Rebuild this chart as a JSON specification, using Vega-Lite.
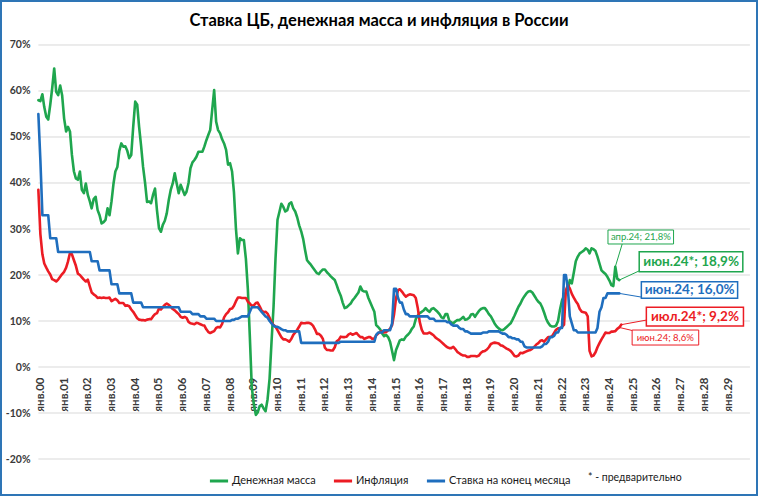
{
"$schema": "https://vega.github.io/schema/vega-lite/v6.json",
"width": 758, "height": 496, "autosize": "none", "padding": 0,
"background": "white",
"config": {"view": {"stroke": "#2E75B6", "strokeWidth": 4}, "font": "Lato"},
"title": {"text": "Ставка ЦБ, денежная масса и инфляция в России", "anchor": "middle", "frame": "group", "fontSize": 16.5, "fontWeight": "bold", "color": "#000000", "baseline": "alphabetic", "offset": -42, "font": "Lato"},
"datasets": {
"main": [
{"d":"1999-12","m":58.0,"r":38.5,"s":55},
{"d":"2000-01","m":57.8,"r":28.9,"s":45},{"d":"2000-02","m":59.3,"r":24.5,"s":33},{"d":"2000-03","m":56.5,"r":22.5,"s":33},{"d":"2000-04","m":54.4,"r":21.6,"s":33},{"d":"2000-05","m":53.8,"r":20.8,"s":33},{"d":"2000-06","m":57.0,"r":20.1,"s":28},{"d":"2000-07","m":60.6,"r":19.1,"s":28},{"d":"2000-08","m":64.9,"r":18.9,"s":28},{"d":"2000-09","m":59.8,"r":18.6,"s":28},{"d":"2000-10","m":59.1,"r":19.0,"s":25},{"d":"2000-11","m":61.2,"r":19.6,"s":25},{"d":"2000-12","m":59.1,"r":20.2,"s":25},
{"d":"2001-01","m":54.0,"r":20.7,"s":25},{"d":"2001-02","m":51.2,"r":21.6,"s":25},{"d":"2001-03","m":52.2,"r":22.9,"s":25},{"d":"2001-04","m":51.2,"r":24.8,"s":25},{"d":"2001-05","m":46.1,"r":24.5,"s":25},{"d":"2001-06","m":42.5,"r":23.2,"s":25},{"d":"2001-07","m":41.0,"r":22.0,"s":25},{"d":"2001-08","m":40.7,"r":20.3,"s":25},{"d":"2001-09","m":42.5,"r":20.0,"s":25},{"d":"2001-10","m":38.5,"r":19.5,"s":25},{"d":"2001-11","m":37.8,"r":19.0,"s":25},{"d":"2001-12","m":39.9,"r":18.6,"s":25},
{"d":"2002-01","m":37.4,"r":19.0,"s":25},{"d":"2002-02","m":36.0,"r":17.5,"s":25},{"d":"2002-03","m":34.5,"r":16.2,"s":23},{"d":"2002-04","m":36.5,"r":15.8,"s":23},{"d":"2002-05","m":37.0,"r":15.5,"s":23},{"d":"2002-06","m":34.1,"r":15.0,"s":23},{"d":"2002-07","m":33.0,"r":15.1,"s":21},{"d":"2002-08","m":31.2,"r":15.0,"s":21},{"d":"2002-09","m":31.5,"r":15.1,"s":21},{"d":"2002-10","m":32.0,"r":15.0,"s":21},{"d":"2002-11","m":34.5,"r":15.0,"s":21},{"d":"2002-12","m":33.0,"r":15.1,"s":21},
{"d":"2003-01","m":36.0,"r":14.3,"s":18},{"d":"2003-02","m":39.9,"r":14.6,"s":18},{"d":"2003-03","m":42.5,"r":14.8,"s":18},{"d":"2003-04","m":43.5,"r":14.5,"s":18},{"d":"2003-05","m":47.0,"r":13.9,"s":16},{"d":"2003-06","m":48.6,"r":13.9,"s":16},{"d":"2003-07","m":47.9,"r":13.9,"s":16},{"d":"2003-08","m":48.0,"r":13.3,"s":16},{"d":"2003-09","m":47.0,"r":13.4,"s":16},{"d":"2003-10","m":45.4,"r":13.2,"s":16},{"d":"2003-11","m":46.1,"r":12.5,"s":16},{"d":"2003-12","m":52.2,"r":12.0,"s":14},
{"d":"2004-01","m":57.7,"r":11.3,"s":14},{"d":"2004-02","m":57.0,"r":10.6,"s":14},{"d":"2004-03","m":52.2,"r":10.3,"s":14},{"d":"2004-04","m":48.0,"r":10.2,"s":14},{"d":"2004-05","m":43.5,"r":10.2,"s":13},{"d":"2004-06","m":40.0,"r":10.1,"s":13},{"d":"2004-07","m":35.9,"r":10.3,"s":13},{"d":"2004-08","m":36.0,"r":10.4,"s":13},{"d":"2004-09","m":35.6,"r":10.4,"s":13},{"d":"2004-10","m":37.4,"r":11.0,"s":13},{"d":"2004-11","m":38.8,"r":11.5,"s":13},{"d":"2004-12","m":34.1,"r":11.7,"s":13},
{"d":"2005-01","m":30.2,"r":12.7,"s":13},{"d":"2005-02","m":29.4,"r":12.5,"s":13},{"d":"2005-03","m":30.9,"r":13.0,"s":13},{"d":"2005-04","m":31.8,"r":13.5,"s":13},{"d":"2005-05","m":33.4,"r":13.8,"s":13},{"d":"2005-06","m":36.3,"r":13.5,"s":13},{"d":"2005-07","m":38.5,"r":13.1,"s":13},{"d":"2005-08","m":39.9,"r":12.6,"s":13},{"d":"2005-09","m":42.1,"r":12.3,"s":13},{"d":"2005-10","m":39.9,"r":11.9,"s":13},{"d":"2005-11","m":37.8,"r":11.5,"s":13},{"d":"2005-12","m":39.6,"r":10.9,"s":12},
{"d":"2006-01","m":38.5,"r":10.7,"s":12},{"d":"2006-02","m":37.4,"r":10.9,"s":12},{"d":"2006-03","m":38.1,"r":10.7,"s":12},{"d":"2006-04","m":40.0,"r":9.8,"s":12},{"d":"2006-05","m":43.2,"r":9.5,"s":12},{"d":"2006-06","m":44.5,"r":9.4,"s":11.5},{"d":"2006-07","m":45.0,"r":9.3,"s":11.5},{"d":"2006-08","m":45.7,"r":9.6,"s":11.5},{"d":"2006-09","m":46.8,"r":9.5,"s":11.5},{"d":"2006-10","m":46.8,"r":9.3,"s":11},{"d":"2006-11","m":46.8,"r":9.1,"s":11},{"d":"2006-12","m":47.9,"r":9.0,"s":11},
{"d":"2007-01","m":49.3,"r":8.2,"s":10.5},{"d":"2007-02","m":50.5,"r":7.6,"s":10.5},{"d":"2007-03","m":51.5,"r":7.4,"s":10.5},{"d":"2007-04","m":55.9,"r":7.6,"s":10.5},{"d":"2007-05","m":60.2,"r":7.8,"s":10.5},{"d":"2007-06","m":53.3,"r":8.5,"s":10},{"d":"2007-07","m":51.5,"r":8.7,"s":10},{"d":"2007-08","m":50.8,"r":8.6,"s":10},{"d":"2007-09","m":49.5,"r":9.4,"s":10},{"d":"2007-10","m":48.6,"r":10.8,"s":10},{"d":"2007-11","m":47.2,"r":11.5,"s":10},{"d":"2007-12","m":44.0,"r":11.9,"s":10},
{"d":"2008-01","m":44.3,"r":12.6,"s":10},{"d":"2008-02","m":42.5,"r":12.7,"s":10.25},{"d":"2008-03","m":38.0,"r":13.3,"s":10.25},{"d":"2008-04","m":30.0,"r":14.3,"s":10.5},{"d":"2008-05","m":24.7,"r":15.1,"s":10.5},{"d":"2008-06","m":28.0,"r":15.1,"s":10.75},{"d":"2008-07","m":27.6,"r":15.0,"s":11},{"d":"2008-08","m":27.6,"r":15.0,"s":11},{"d":"2008-09","m":23.5,"r":15.0,"s":11},{"d":"2008-10","m":17.0,"r":14.2,"s":11},{"d":"2008-11","m":6.5,"r":13.8,"s":12},{"d":"2008-12","m":-4.5,"r":13.3,"s":13},
{"d":"2009-01","m":-8.0,"r":13.4,"s":13},{"d":"2009-02","m":-10.4,"r":13.9,"s":13},{"d":"2009-03","m":-9.9,"r":14.0,"s":13},{"d":"2009-04","m":-8.5,"r":13.2,"s":12.5},{"d":"2009-05","m":-8.2,"r":12.3,"s":12},{"d":"2009-06","m":-9.0,"r":11.9,"s":11.5},{"d":"2009-07","m":-9.6,"r":12.0,"s":11},{"d":"2009-08","m":-7.0,"r":11.6,"s":10.75},{"d":"2009-09","m":-2.5,"r":10.7,"s":10},{"d":"2009-10","m":5.5,"r":9.7,"s":9.5},{"d":"2009-11","m":13.1,"r":9.1,"s":9},{"d":"2009-12","m":23.5,"r":8.8,"s":8.75},
{"d":"2010-01","m":32.0,"r":8.0,"s":8.75},{"d":"2010-02","m":33.8,"r":7.2,"s":8.5},{"d":"2010-03","m":35.5,"r":6.5,"s":8.25},{"d":"2010-04","m":34.8,"r":6.0,"s":8},{"d":"2010-05","m":33.8,"r":6.0,"s":8},{"d":"2010-06","m":34.1,"r":5.8,"s":7.75},{"d":"2010-07","m":35.5,"r":5.5,"s":7.75},{"d":"2010-08","m":35.8,"r":6.1,"s":7.75},{"d":"2010-09","m":34.5,"r":7.0,"s":7.75},{"d":"2010-10","m":33.8,"r":7.5,"s":7.75},{"d":"2010-11","m":32.5,"r":8.1,"s":7.75},{"d":"2010-12","m":30.8,"r":8.8,"s":7.75},
{"d":"2011-01","m":29.5,"r":9.6,"s":5.25},{"d":"2011-02","m":27.8,"r":9.5,"s":5.25},{"d":"2011-03","m":25.5,"r":9.5,"s":5.25},{"d":"2011-04","m":23.2,"r":9.6,"s":5.25},{"d":"2011-05","m":22.7,"r":9.6,"s":5.25},{"d":"2011-06","m":22.2,"r":9.4,"s":5.25},{"d":"2011-07","m":21.6,"r":9.0,"s":5.25},{"d":"2011-08","m":21.0,"r":8.2,"s":5.25},{"d":"2011-09","m":20.4,"r":7.2,"s":5.25},{"d":"2011-10","m":20.2,"r":7.2,"s":5.25},{"d":"2011-11","m":20.8,"r":6.8,"s":5.25},{"d":"2011-12","m":21.2,"r":6.1,"s":5.25},
{"d":"2012-01","m":21.2,"r":4.2,"s":5.25},{"d":"2012-02","m":20.6,"r":3.7,"s":5.25},{"d":"2012-03","m":20.2,"r":3.7,"s":5.25},{"d":"2012-04","m":19.7,"r":3.6,"s":5.25},{"d":"2012-05","m":19.3,"r":3.6,"s":5.25},{"d":"2012-06","m":18.9,"r":4.3,"s":5.25},{"d":"2012-07","m":17.8,"r":5.6,"s":5.25},{"d":"2012-08","m":16.5,"r":5.9,"s":5.25},{"d":"2012-09","m":15.5,"r":6.6,"s":5.5},{"d":"2012-10","m":14.0,"r":6.5,"s":5.5},{"d":"2012-11","m":12.8,"r":6.5,"s":5.5},{"d":"2012-12","m":13.0,"r":6.6,"s":5.5},
{"d":"2013-01","m":13.4,"r":7.1,"s":5.5},{"d":"2013-02","m":13.8,"r":7.3,"s":5.5},{"d":"2013-03","m":14.5,"r":7.0,"s":5.5},{"d":"2013-04","m":15.0,"r":7.2,"s":5.5},{"d":"2013-05","m":15.6,"r":7.4,"s":5.5},{"d":"2013-06","m":16.2,"r":6.9,"s":5.5},{"d":"2013-07","m":17.5,"r":6.5,"s":5.5},{"d":"2013-08","m":16.6,"r":6.5,"s":5.5},{"d":"2013-09","m":16.4,"r":6.1,"s":5.5},{"d":"2013-10","m":16.4,"r":6.3,"s":5.5},{"d":"2013-11","m":15.0,"r":6.5,"s":5.5},{"d":"2013-12","m":14.0,"r":6.5,"s":5.5},
{"d":"2014-01","m":13.0,"r":6.1,"s":5.5},{"d":"2014-02","m":12.0,"r":6.2,"s":5.5},{"d":"2014-03","m":9.1,"r":6.9,"s":7},{"d":"2014-04","m":8.7,"r":7.3,"s":7.5},{"d":"2014-05","m":8.2,"r":7.6,"s":7.5},{"d":"2014-06","m":7.3,"r":7.8,"s":7.5},{"d":"2014-07","m":6.7,"r":7.5,"s":8},{"d":"2014-08","m":7.0,"r":7.6,"s":8},{"d":"2014-09","m":6.5,"r":8.0,"s":8},{"d":"2014-10","m":5.5,"r":8.3,"s":8},{"d":"2014-11","m":3.5,"r":9.1,"s":9.5},{"d":"2014-12","m":1.5,"r":11.4,"s":17},
{"d":"2015-01","m":3.7,"r":15.0,"s":17},{"d":"2015-02","m":4.8,"r":16.7,"s":15},{"d":"2015-03","m":5.8,"r":16.9,"s":14},{"d":"2015-04","m":6.0,"r":16.4,"s":14},{"d":"2015-05","m":5.9,"r":15.8,"s":12.5},{"d":"2015-06","m":6.6,"r":15.3,"s":11.5},{"d":"2015-07","m":7.0,"r":15.6,"s":11.5},{"d":"2015-08","m":7.5,"r":15.8,"s":11},{"d":"2015-09","m":8.3,"r":15.7,"s":11},{"d":"2015-10","m":8.8,"r":15.6,"s":11},{"d":"2015-11","m":10.4,"r":15.0,"s":11},{"d":"2015-12","m":11.2,"r":12.9,"s":11},
{"d":"2016-01","m":11.7,"r":9.8,"s":11},{"d":"2016-02","m":12.0,"r":8.1,"s":11},{"d":"2016-03","m":12.3,"r":7.3,"s":11},{"d":"2016-04","m":12.8,"r":7.3,"s":11},{"d":"2016-05","m":12.3,"r":7.3,"s":11},{"d":"2016-06","m":12.0,"r":7.5,"s":10.5},{"d":"2016-07","m":12.6,"r":7.2,"s":10.5},{"d":"2016-08","m":12.8,"r":6.9,"s":10.5},{"d":"2016-09","m":12.4,"r":6.4,"s":10},{"d":"2016-10","m":12.0,"r":6.1,"s":10},{"d":"2016-11","m":11.5,"r":5.8,"s":10},{"d":"2016-12","m":10.8,"r":5.4,"s":10},
{"d":"2017-01","m":10.6,"r":5.0,"s":10},{"d":"2017-02","m":11.5,"r":4.6,"s":10},{"d":"2017-03","m":11.5,"r":4.3,"s":9.75},{"d":"2017-04","m":10.0,"r":4.1,"s":9.75},{"d":"2017-05","m":9.7,"r":4.1,"s":9.25},{"d":"2017-06","m":9.5,"r":4.4,"s":9},{"d":"2017-07","m":9.9,"r":3.9,"s":9},{"d":"2017-08","m":10.2,"r":3.3,"s":9},{"d":"2017-09","m":10.2,"r":3.0,"s":8.5},{"d":"2017-10","m":10.5,"r":2.7,"s":8.25},{"d":"2017-11","m":10.9,"r":2.5,"s":8.25},{"d":"2017-12","m":10.3,"r":2.5,"s":7.75},
{"d":"2018-01","m":10.4,"r":2.2,"s":7.75},{"d":"2018-02","m":10.7,"r":2.2,"s":7.5},{"d":"2018-03","m":11.4,"r":2.4,"s":7.25},{"d":"2018-04","m":11.5,"r":2.4,"s":7.25},{"d":"2018-05","m":10.9,"r":2.4,"s":7.25},{"d":"2018-06","m":11.6,"r":2.3,"s":7.25},{"d":"2018-07","m":12.2,"r":2.5,"s":7.25},{"d":"2018-08","m":12.6,"r":3.1,"s":7.25},{"d":"2018-09","m":12.8,"r":3.4,"s":7.5},{"d":"2018-10","m":12.8,"r":3.5,"s":7.5},{"d":"2018-11","m":12.2,"r":3.8,"s":7.5},{"d":"2018-12","m":11.5,"r":4.3,"s":7.75},
{"d":"2019-01","m":11.0,"r":5.0,"s":7.75},{"d":"2019-02","m":10.2,"r":5.2,"s":7.75},{"d":"2019-03","m":9.4,"r":5.3,"s":7.75},{"d":"2019-04","m":8.8,"r":5.2,"s":7.75},{"d":"2019-05","m":8.4,"r":5.1,"s":7.75},{"d":"2019-06","m":8.1,"r":4.7,"s":7.5},{"d":"2019-07","m":8.0,"r":4.6,"s":7.25},{"d":"2019-08","m":8.3,"r":4.3,"s":7.25},{"d":"2019-09","m":8.7,"r":4.0,"s":7},{"d":"2019-10","m":9.1,"r":3.8,"s":6.5},{"d":"2019-11","m":9.5,"r":3.5,"s":6.5},{"d":"2019-12","m":10.3,"r":3.0,"s":6.25},
{"d":"2020-01","m":11.2,"r":2.4,"s":6.25},{"d":"2020-02","m":12.2,"r":2.3,"s":6},{"d":"2020-03","m":13.1,"r":2.5,"s":6},{"d":"2020-04","m":13.8,"r":3.1,"s":5.5},{"d":"2020-05","m":14.7,"r":3.0,"s":5.5},{"d":"2020-06","m":15.4,"r":3.2,"s":4.5},{"d":"2020-07","m":16.0,"r":3.4,"s":4.25},{"d":"2020-08","m":16.4,"r":3.6,"s":4.25},{"d":"2020-09","m":16.5,"r":3.7,"s":4.25},{"d":"2020-10","m":16.2,"r":4.0,"s":4.25},{"d":"2020-11","m":15.5,"r":4.4,"s":4.25},{"d":"2020-12","m":14.8,"r":4.9,"s":4.25},
{"d":"2021-01","m":14.2,"r":5.2,"s":4.25},{"d":"2021-02","m":13.8,"r":5.7,"s":4.25},{"d":"2021-03","m":13.0,"r":5.8,"s":4.5},{"d":"2021-04","m":11.8,"r":5.5,"s":5},{"d":"2021-05","m":10.5,"r":6.0,"s":5},{"d":"2021-06","m":9.6,"r":6.5,"s":5.5},{"d":"2021-07","m":9.0,"r":6.5,"s":6.5},{"d":"2021-08","m":8.8,"r":6.7,"s":6.5},{"d":"2021-09","m":8.8,"r":7.4,"s":6.75},{"d":"2021-10","m":9.0,"r":8.1,"s":7.5},{"d":"2021-11","m":10.0,"r":8.4,"s":7.5},{"d":"2021-12","m":12.5,"r":8.4,"s":8.5},
{"d":"2022-01","m":14.5,"r":8.7,"s":8.5},{"d":"2022-02","m":15.5,"r":9.2,"s":20},{"d":"2022-03","m":16.2,"r":16.7,"s":20},{"d":"2022-04","m":16.7,"r":17.8,"s":17},{"d":"2022-05","m":18.9,"r":17.1,"s":11},{"d":"2022-06","m":18.2,"r":15.9,"s":9.5},{"d":"2022-07","m":20.5,"r":15.1,"s":8},{"d":"2022-08","m":23.0,"r":14.3,"s":8},{"d":"2022-09","m":24.0,"r":13.7,"s":7.5},{"d":"2022-10","m":24.7,"r":12.6,"s":7.5},{"d":"2022-11","m":25.0,"r":12.0,"s":7.5},{"d":"2022-12","m":25.3,"r":11.9,"s":7.5},
{"d":"2023-01","m":25.8,"r":11.8,"s":7.5},{"d":"2023-02","m":25.5,"r":11.0,"s":7.5},{"d":"2023-03","m":24.7,"r":3.5,"s":7.5},{"d":"2023-04","m":25.8,"r":2.3,"s":7.5},{"d":"2023-05","m":25.6,"r":2.5,"s":7.5},{"d":"2023-06","m":25.2,"r":3.2,"s":7.5},{"d":"2023-07","m":24.0,"r":4.3,"s":8.5},{"d":"2023-08","m":22.5,"r":5.2,"s":12},{"d":"2023-09","m":21.0,"r":6.0,"s":13},{"d":"2023-10","m":20.6,"r":6.7,"s":15},{"d":"2023-11","m":20.2,"r":7.5,"s":15},{"d":"2023-12","m":19.6,"r":7.4,"s":16},
{"d":"2024-01","m":18.8,"r":7.4,"s":16},{"d":"2024-02","m":17.8,"r":7.7,"s":16},{"d":"2024-03","m":17.6,"r":7.7,"s":16},{"d":"2024-04","m":21.8,"r":7.8,"s":16},{"d":"2024-05","m":19.2,"r":8.3,"s":16},{"d":"2024-06","m":18.9,"r":8.6,"s":16},{"d":"2024-07","m":null,"r":9.2,"s":null}
],
"ann": [
{"k":"m","kind":"small","lab":"апр.24; 21,8%","xa":"2023-12-10","xb":"2026-09-15","ya":26.74,"yb":29.78,"xc":"2025-04-29","yc":28.26,"xp":"2024-04-01","yp":21.8,"xl":"2024-07-16","yl":26.74},
{"k":"m","kind":"big","lab":"июн.24*; 18,9%","xa":"2025-04-04","xb":"2029-08-17","ya":20.72,"yb":25.07,"xc":"2027-06-13","yc":22.9,"xp":"2024-06-01","yp":18.9,"xl":"2025-04-04","yl":20.9},
{"k":"s","kind":"big","lab":"июн.24; 16,0%","xa":"2025-05-07","xb":"2029-05-29","ya":14.93,"yb":18.54,"xc":"2027-05-21","yc":16.74,"xp":"2024-06-01","yp":16.0,"xl":"2025-05-07","yl":15.2},
{"k":"r","kind":"big","lab":"июл.24*; 9,2%","xa":"2025-07-23","xb":"2029-08-27","ya":8.91,"yb":12.98,"xc":"2027-08-11","yc":10.94,"xp":"2024-07-01","yp":9.2,"xl":"2025-07-23","yl":10.2},
{"k":"r","kind":"small","lab":"июн.24; 8,6%","xa":"2024-12-16","xb":"2027-10-08","ya":4.78,"yb":8.04,"xc":"2026-05-10","yc":6.41,"xp":"2024-06-01","yp":8.6,"xl":"2024-12-28","yl":7.9}
]
},
"layer": [
{
"data": {"values": [{"g":-20},{"g":-10},{"g":0},{"g":10},{"g":20},{"g":30},{"g":40},{"g":50},{"g":60},{"g":70}]},
"mark": {"type": "rule", "color": "#D9D9D9", "strokeWidth": 1},
"encoding": {
"y": {"field": "g", "type": "quantitative", "scale": {"domain": [-28.04, 79.78], "nice": false, "zero": false},
 "axis": {"orient": "left", "offset": -34, "values": [-20,-10,0,10,20,30,40,50,60,70], "labelExpr": "datum.value + '%'", "domain": false, "ticks": false, "grid": false, "title": null, "labelFontSize": 10.5, "labelFontWeight": "bold", "labelColor": "#3A3A3A", "labelPadding": 4, "labelFont": "Lato"}},
"x": {"datum": {"year": 1999, "month": 12, "date": 1}, "type": "temporal", "scale": {"domain": [{"year": 1998, "month": 4, "date": 19}, {"year": 2030, "month": 4, "date": 8}]},
 "axis": {"orient": "bottom", "offset": -129, "tickCount": {"interval": "year", "step": 1}, "labelExpr": "year(datum.value) < 2000 || year(datum.value) > 2029 ? '' : 'янв.' + timeFormat(datum.value, '%y')", "labelAngle": -90, "labelPadding": 10, "labelFontSize": 11.5, "labelFontWeight": "bold", "labelColor": "#3A3A3A", "domain": false, "ticks": false, "grid": false, "title": null, "labelOverlap": false, "labelBound": false, "labelFlush": false, "labelFont": "Lato"}},
"x2": {"datum": {"year": 2029, "month": 12, "date": 5}}
}
},
{
"data": {"name": "main", "format": {"parse": {"d": "date:'%Y-%m'"}}},
"transform": [{"fold": ["m", "r", "s"], "as": ["k", "v"]}, {"filter": "datum.v != null"}],
"mark": {"type": "line", "strokeWidth": 2.6, "strokeJoin": "round", "strokeCap": "round"},
"encoding": {
"x": {"field": "d", "type": "temporal", "scale": {"domain": [{"year": 1998, "month": 4, "date": 19}, {"year": 2030, "month": 4, "date": 8}]},
 "axis": {"orient": "bottom", "offset": -129, "tickCount": {"interval": "year", "step": 1}, "labelExpr": "year(datum.value) < 2000 || year(datum.value) > 2029 ? '' : 'янв.' + timeFormat(datum.value, '%y')", "labelAngle": -90, "labelPadding": 10, "labelFontSize": 11.5, "labelFontWeight": "bold", "labelColor": "#3A3A3A", "domain": false, "ticks": false, "grid": false, "title": null, "labelOverlap": false, "labelBound": false, "labelFlush": false, "labelFont": "Lato"}},
"y": {"field": "v", "type": "quantitative", "scale": {"domain": [-28.04, 79.78], "nice": false, "zero": false},
 "axis": {"orient": "left", "offset": -34, "values": [-20,-10,0,10,20,30,40,50,60,70], "labelExpr": "datum.value + '%'", "domain": false, "ticks": false, "grid": false, "title": null, "labelFontSize": 10.5, "labelFontWeight": "bold", "labelColor": "#3A3A3A", "labelPadding": 4, "labelFont": "Lato"}},
"color": {"field": "k", "type": "nominal", "scale": {"domain": ["m", "r", "s"], "range": ["#1FA64E", "#EC1C24", "#1F6EBE"]},
 "legend": {"orient": "none", "legendX": 208, "legendY": 470, "direction": "horizontal", "title": null, "symbolType": "stroke", "symbolStrokeWidth": 3, "symbolSize": 330, "labelFontSize": 11, "labelColor": "#1A1A1A", "labelFont": "Lato", "columnPadding": 11, "labelOffset": 2, "padding": 0,
  "labelExpr": "datum.label == 'm' ? 'Денежная масса' : datum.label == 'r' ? 'Инфляция' : 'Ставка на конец месяца'"}}
}
},
{
"data": {"name": "ann", "format": {"parse": {"xa": "date:'%Y-%m-%d'", "xb": "date:'%Y-%m-%d'", "xc": "date:'%Y-%m-%d'", "xp": "date:'%Y-%m-%d'", "xl": "date:'%Y-%m-%d'"}}},
"layer": [
{
"mark": {"type": "rule", "strokeWidth": 1},
"encoding": {
"x": {"field": "xp", "type": "temporal", "scale": {"domain": [{"year": 1998, "month": 4, "date": 19}, {"year": 2030, "month": 4, "date": 8}]},
 "axis": {"orient": "bottom", "offset": -129, "tickCount": {"interval": "year", "step": 1}, "labelExpr": "year(datum.value) < 2000 || year(datum.value) > 2029 ? '' : 'янв.' + timeFormat(datum.value, '%y')", "labelAngle": -90, "labelPadding": 10, "labelFontSize": 11.5, "labelFontWeight": "bold", "labelColor": "#3A3A3A", "domain": false, "ticks": false, "grid": false, "title": null, "labelOverlap": false, "labelBound": false, "labelFlush": false, "labelFont": "Lato"}},
"x2": {"field": "xl"},
"y": {"field": "yp", "type": "quantitative", "scale": {"domain": [-28.04, 79.78], "nice": false, "zero": false},
 "axis": {"orient": "left", "offset": -34, "values": [-20,-10,0,10,20,30,40,50,60,70], "labelExpr": "datum.value + '%'", "domain": false, "ticks": false, "grid": false, "title": null, "labelFontSize": 10.5, "labelFontWeight": "bold", "labelColor": "#3A3A3A", "labelPadding": 4, "labelFont": "Lato"}},
"y2": {"field": "yl"},
"color": {"field": "k", "type": "nominal", "scale": {"domain": ["m", "r", "s"], "range": ["#1FA64E", "#EC1C24", "#1F6EBE"]}, "legend": null}
}
},
{
"mark": {"type": "rect", "fill": "white"},
"encoding": {
"x": {"field": "xa", "type": "temporal", "scale": {"domain": [{"year": 1998, "month": 4, "date": 19}, {"year": 2030, "month": 4, "date": 8}]},
 "axis": {"orient": "bottom", "offset": -129, "tickCount": {"interval": "year", "step": 1}, "labelExpr": "year(datum.value) < 2000 || year(datum.value) > 2029 ? '' : 'янв.' + timeFormat(datum.value, '%y')", "labelAngle": -90, "labelPadding": 10, "labelFontSize": 11.5, "labelFontWeight": "bold", "labelColor": "#3A3A3A", "domain": false, "ticks": false, "grid": false, "title": null, "labelOverlap": false, "labelBound": false, "labelFlush": false, "labelFont": "Lato"}},
"x2": {"field": "xb"},
"y": {"field": "ya", "type": "quantitative", "scale": {"domain": [-28.04, 79.78], "nice": false, "zero": false},
 "axis": {"orient": "left", "offset": -34, "values": [-20,-10,0,10,20,30,40,50,60,70], "labelExpr": "datum.value + '%'", "domain": false, "ticks": false, "grid": false, "title": null, "labelFontSize": 10.5, "labelFontWeight": "bold", "labelColor": "#3A3A3A", "labelPadding": 4, "labelFont": "Lato"}},
"y2": {"field": "yb"},
"stroke": {"field": "k", "type": "nominal", "scale": {"domain": ["m", "r", "s"], "range": ["#1FA64E", "#EC1C24", "#1F6EBE"]}, "legend": null},
"strokeWidth": {"condition": {"test": "datum.kind == 'big'", "value": 1.5}, "value": 1}
}
},
{
"transform": [{"filter": "datum.kind == 'big'"}],
"mark": {"type": "text", "fontSize": 13.5, "fontWeight": "bold", "align": "center", "baseline": "middle", "font": "Lato"},
"encoding": {
"x": {"field": "xc", "type": "temporal", "scale": {"domain": [{"year": 1998, "month": 4, "date": 19}, {"year": 2030, "month": 4, "date": 8}]},
 "axis": {"orient": "bottom", "offset": -129, "tickCount": {"interval": "year", "step": 1}, "labelExpr": "year(datum.value) < 2000 || year(datum.value) > 2029 ? '' : 'янв.' + timeFormat(datum.value, '%y')", "labelAngle": -90, "labelPadding": 10, "labelFontSize": 11.5, "labelFontWeight": "bold", "labelColor": "#3A3A3A", "domain": false, "ticks": false, "grid": false, "title": null, "labelOverlap": false, "labelBound": false, "labelFlush": false, "labelFont": "Lato"}},
"y": {"field": "yc", "type": "quantitative", "scale": {"domain": [-28.04, 79.78], "nice": false, "zero": false},
 "axis": {"orient": "left", "offset": -34, "values": [-20,-10,0,10,20,30,40,50,60,70], "labelExpr": "datum.value + '%'", "domain": false, "ticks": false, "grid": false, "title": null, "labelFontSize": 10.5, "labelFontWeight": "bold", "labelColor": "#3A3A3A", "labelPadding": 4, "labelFont": "Lato"}},
"text": {"field": "lab"},
"color": {"field": "k", "type": "nominal", "scale": {"domain": ["m", "r", "s"], "range": ["#1FA64E", "#EC1C24", "#1F6EBE"]}, "legend": null}
}
},
{
"transform": [{"filter": "datum.kind == 'small'"}],
"mark": {"type": "text", "fontSize": 9.5, "align": "center", "baseline": "middle", "font": "Lato"},
"encoding": {
"x": {"field": "xc", "type": "temporal", "scale": {"domain": [{"year": 1998, "month": 4, "date": 19}, {"year": 2030, "month": 4, "date": 8}]},
 "axis": {"orient": "bottom", "offset": -129, "tickCount": {"interval": "year", "step": 1}, "labelExpr": "year(datum.value) < 2000 || year(datum.value) > 2029 ? '' : 'янв.' + timeFormat(datum.value, '%y')", "labelAngle": -90, "labelPadding": 10, "labelFontSize": 11.5, "labelFontWeight": "bold", "labelColor": "#3A3A3A", "domain": false, "ticks": false, "grid": false, "title": null, "labelOverlap": false, "labelBound": false, "labelFlush": false, "labelFont": "Lato"}},
"y": {"field": "yc", "type": "quantitative", "scale": {"domain": [-28.04, 79.78], "nice": false, "zero": false},
 "axis": {"orient": "left", "offset": -34, "values": [-20,-10,0,10,20,30,40,50,60,70], "labelExpr": "datum.value + '%'", "domain": false, "ticks": false, "grid": false, "title": null, "labelFontSize": 10.5, "labelFontWeight": "bold", "labelColor": "#3A3A3A", "labelPadding": 4, "labelFont": "Lato"}},
"text": {"field": "lab"},
"color": {"field": "k", "type": "nominal", "scale": {"domain": ["m", "r", "s"], "range": ["#1FA64E", "#EC1C24", "#1F6EBE"]}, "legend": null}
}
}
]
},
{
"data": {"values": [{"t": "* - предварительно"}]},
"mark": {"type": "text", "align": "left", "baseline": "alphabetic", "fontSize": 10.5, "color": "#1A1A1A", "font": "Lato"},
"encoding": {
"x": {"datum": {"year": 2023, "month": 2, "date": 6}, "type": "temporal", "scale": {"domain": [{"year": 1998, "month": 4, "date": 19}, {"year": 2030, "month": 4, "date": 8}]},
 "axis": {"orient": "bottom", "offset": -129, "tickCount": {"interval": "year", "step": 1}, "labelExpr": "year(datum.value) < 2000 || year(datum.value) > 2029 ? '' : 'янв.' + timeFormat(datum.value, '%y')", "labelAngle": -90, "labelPadding": 10, "labelFontSize": 11.5, "labelFontWeight": "bold", "labelColor": "#3A3A3A", "domain": false, "ticks": false, "grid": false, "title": null, "labelOverlap": false, "labelBound": false, "labelFlush": false, "labelFont": "Lato"}},
"y": {"datum": -24.8, "type": "quantitative", "scale": {"domain": [-28.04, 79.78], "nice": false, "zero": false},
 "axis": {"orient": "left", "offset": -34, "values": [-20,-10,0,10,20,30,40,50,60,70], "labelExpr": "datum.value + '%'", "domain": false, "ticks": false, "grid": false, "title": null, "labelFontSize": 10.5, "labelFontWeight": "bold", "labelColor": "#3A3A3A", "labelPadding": 4, "labelFont": "Lato"}},
"text": {"field": "t"}
}
}
]
}
